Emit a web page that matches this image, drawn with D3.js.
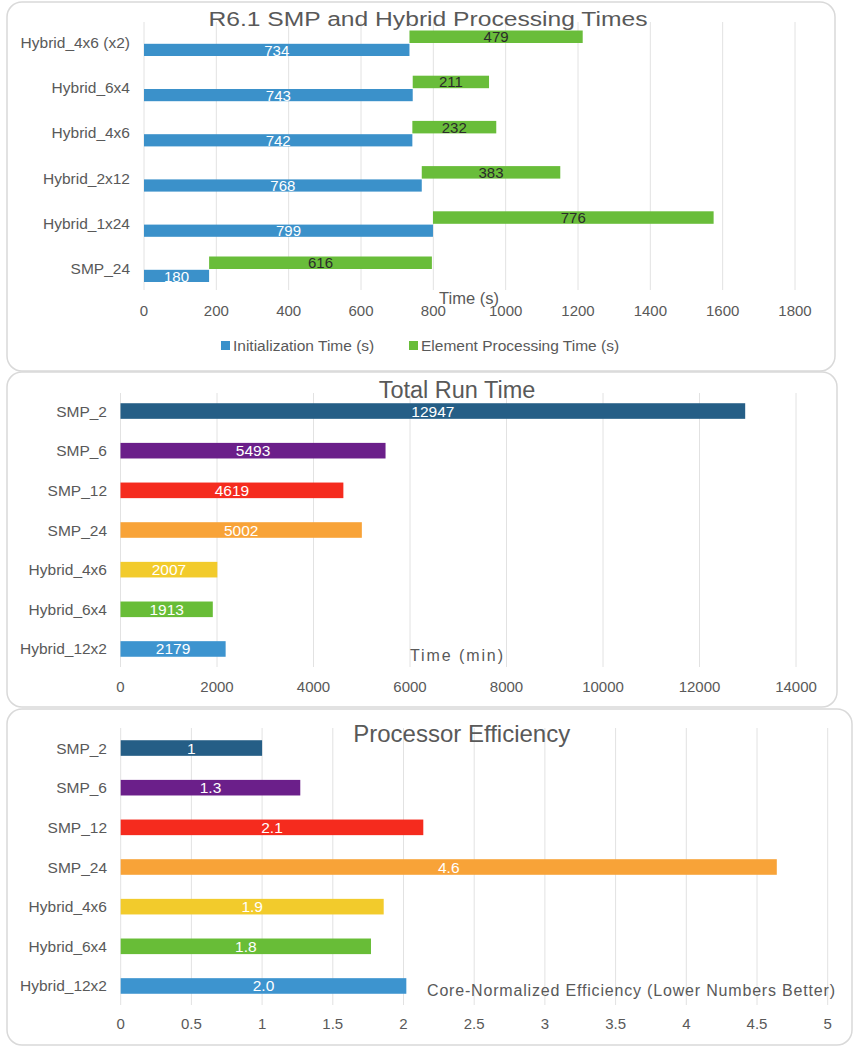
<!DOCTYPE html>
<html>
<head>
<meta charset="utf-8">
<script src="https://cdn.jsdelivr.net/npm/d3@7"></script>
<style>
  html, body { margin: 0; padding: 0; background: #ffffff; }
  svg { display: block; font-family: "Liberation Sans", Arial, sans-serif; }
</style>
</head>
<body>
<svg id="chart" width="861" height="1050"></svg>
<script>
// ---------- DATA ----------
// Panel 1: R6.1 SMP and Hybrid Processing Times
const procCategories = ["Hybrid_4x6 (x2)", "Hybrid_6x4", "Hybrid_4x6", "Hybrid_2x12", "Hybrid_1x24", "SMP_24"];
const initTime = [734, 743, 742, 768, 799, 180];
const elemTime = [479, 211, 232, 383, 776, 616];
const procTicks = [0, 200, 400, 600, 800, 1000, 1200, 1400, 1600, 1800];
const procSeriesNames = ["Initialization Time (s)", "Element Processing Time (s)"];

// Panel 2: Total Run Time
const runCategories = ["SMP_2", "SMP_6", "SMP_12", "SMP_24", "Hybrid_4x6", "Hybrid_6x4", "Hybrid_12x2"];
const runTime = [12947, 5493, 4619, 5002, 2007, 1913, 2179];
const runTicks = [0, 2000, 4000, 6000, 8000, 10000, 12000, 14000];

// Panel 3: Processor Efficiency
const effCategories = ["SMP_2", "SMP_6", "SMP_12", "SMP_24", "Hybrid_4x6", "Hybrid_6x4", "Hybrid_12x2"];
const effValue = [1.0, 1.27, 2.14, 4.64, 1.86, 1.77, 2.02];
const effLabels = ["1", "1.3", "2.1", "4.6", "1.9", "1.8", "2.0"];
const effTicks = [0, 0.5, 1, 1.5, 2, 2.5, 3, 3.5, 4, 4.5, 5];

// ---------- STYLE ----------
const barColors = ["#255e86", "#6b1f8a", "#f52b1e", "#f8a338", "#f2cb2c", "#68bd37", "#3d94cf"];
const initColor = "#3b91ca";
const elemColor = "#69bd3a";
const gridColor = "#e2e2e2";
const textColor = "#595959";
const frameColor = "#d9d9d9";

const svg = d3.select("#chart");

function frame(x0, y0, x1, y1) {
  svg.append("rect").attr("x", x0).attr("y", y0).attr("width", x1 - x0).attr("height", y1 - y0)
    .attr("rx", 15).attr("ry", 15).attr("fill", "#fff").attr("stroke", frameColor).attr("stroke-width", 1.5);
}

function grid(g, x, ticks, yTop, yBot, labelY, fmt) {
  g.selectAll("line.grid").data(ticks).join("line").attr("class", "grid")
    .attr("x1", d => x(d)).attr("x2", d => x(d)).attr("y1", yTop).attr("y2", yBot)
    .attr("stroke", gridColor).attr("stroke-width", 1);
  g.selectAll("text.tick").data(ticks).join("text").attr("class", "tick")
    .attr("x", d => x(d)).attr("y", labelY).attr("text-anchor", "middle")
    .attr("font-size", 15).attr("fill", textColor).text(fmt);
}

// ================= PANEL 1 =================
frame(7, 2, 835, 371);
{
  const g = svg.append("g");
  const x = d3.scaleLinear().domain([0, 1800]).range([144, 795]);
  const y = d3.scaleBand().domain(procCategories).range([20.4, 291.6]);
  grid(g, x, procTicks, 22, 290, 316, d => d);

  const rows = procCategories.map((c, i) => ({ c, init: initTime[i], elem: elemTime[i] }));
  const cy = d => y(d.c) + y.bandwidth() / 2;

  // green (element processing) bars start where init ends
  g.selectAll("rect.elem").data(rows).join("rect").attr("class", "elem")
    .attr("x", d => x(d.init)).attr("width", d => x(d.init + d.elem) - x(d.init))
    .attr("y", d => cy(d) - 12.5).attr("height", 12.5).attr("fill", elemColor);
  g.selectAll("rect.init").data(rows).join("rect").attr("class", "init")
    .attr("x", x(0)).attr("width", d => x(d.init) - x(0))
    .attr("y", d => cy(d) + 0.8).attr("height", 12.2).attr("fill", initColor);

  g.selectAll("text.elemL").data(rows).join("text").attr("class", "elemL")
    .attr("x", d => (x(d.init) + x(d.init + d.elem)) / 2).attr("y", d => cy(d) - 0.8)
    .attr("text-anchor", "middle").attr("font-size", 15).attr("fill", "#2b2b2b").text(d => d.elem);
  g.selectAll("text.initL").data(rows).join("text").attr("class", "initL")
    .attr("x", d => (x(0) + x(d.init)) / 2).attr("y", d => cy(d) + 12.5)
    .attr("text-anchor", "middle").attr("font-size", 15).attr("fill", "#ffffff").text(d => d.init);

  g.selectAll("text.cat").data(procCategories).join("text").attr("class", "cat")
    .attr("x", 130).attr("y", d => y(d) + y.bandwidth() / 2 + 5).attr("text-anchor", "end")
    .attr("font-size", 15.5).attr("fill", textColor).text(d => d);

  svg.append("text").attr("x", 428).attr("y", 25.5).attr("text-anchor", "middle")
    .attr("font-size", 19.5).attr("textLength", 439).attr("lengthAdjust", "spacingAndGlyphs")
    .attr("fill", textColor).text("R6.1 SMP and Hybrid Processing Times");

  svg.append("text").attr("x", 439).attr("y", 304).attr("font-size", 16.5)
    .attr("fill", textColor).text("Time (s)");

  // legend
  const legend = [
    { name: procSeriesNames[0], color: initColor, x: 221 },
    { name: procSeriesNames[1], color: elemColor, x: 409 }
  ];
  const lg = svg.append("g");
  lg.selectAll("rect").data(legend).join("rect")
    .attr("x", d => d.x).attr("y", 341).attr("width", 9).attr("height", 9).attr("fill", d => d.color);
  lg.selectAll("text").data(legend).join("text")
    .attr("x", d => d.x + 12).attr("y", 350.5).attr("font-size", 15.5).attr("fill", textColor).text(d => d.name);
}

// ================= PANEL 2 =================
frame(7, 372, 837, 707);
{
  const g = svg.append("g");
  const x = d3.scaleLinear().domain([0, 14000]).range([120.5, 796]);
  const y = d3.scaleBand().domain(runCategories).range([391.2, 668.8]);
  grid(g, x, runTicks, 393, 667, 692, d => d);
  const rows = runCategories.map((c, i) => ({ c, v: runTime[i], color: barColors[i] }));
  const cy = d => y(d.c) + y.bandwidth() / 2;
  g.selectAll("rect.bar").data(rows).join("rect").attr("class", "bar")
    .attr("x", x(0)).attr("width", d => x(d.v) - x(0))
    .attr("y", d => cy(d) - 7.8).attr("height", 15.6).attr("fill", d => d.color);
  g.selectAll("text.val").data(rows).join("text").attr("class", "val")
    .attr("x", d => (x(0) + x(d.v)) / 2).attr("y", d => cy(d) + 5.5)
    .attr("text-anchor", "middle").attr("font-size", 15.5).attr("fill", "#ffffff").text(d => d.v);
  g.selectAll("text.cat").data(runCategories).join("text").attr("class", "cat")
    .attr("x", 107).attr("y", d => y(d) + y.bandwidth() / 2 + 5.5).attr("text-anchor", "end")
    .attr("font-size", 15.5).attr("fill", textColor).text(d => d);
  svg.append("text").attr("x", 457).attr("y", 398).attr("text-anchor", "middle")
    .attr("font-size", 23.5).attr("fill", textColor).text("Total Run Time");
  svg.append("text").attr("x", 410).attr("y", 661).attr("font-size", 16)
    .attr("textLength", 93).attr("lengthAdjust", "spacing")
    .attr("fill", textColor).text("Time (min)");
}

// ================= PANEL 3 =================
frame(7, 709, 852, 1045);
{
  const g = svg.append("g");
  const x = d3.scaleLinear().domain([0, 5]).range([120.7, 827.7]);
  const y = d3.scaleBand().domain(effCategories).range([728.2, 1005.8]);
  grid(g, x, effTicks, 728, 1005, 1029, d => d);
  const rows = effCategories.map((c, i) => ({ c, v: effValue[i], lab: effLabels[i], color: barColors[i] }));
  const cy = d => y(d.c) + y.bandwidth() / 2;
  g.selectAll("rect.bar").data(rows).join("rect").attr("class", "bar")
    .attr("x", x(0)).attr("width", d => x(d.v) - x(0))
    .attr("y", d => cy(d) - 7.8).attr("height", 15.6).attr("fill", d => d.color);
  g.selectAll("text.val").data(rows).join("text").attr("class", "val")
    .attr("x", d => (x(0) + x(d.v)) / 2).attr("y", d => cy(d) + 5.5)
    .attr("text-anchor", "middle").attr("font-size", 15.5).attr("fill", "#ffffff").text(d => d.lab);
  g.selectAll("text.cat").data(effCategories).join("text").attr("class", "cat")
    .attr("x", 107).attr("y", d => y(d) + y.bandwidth() / 2 + 5.5).attr("text-anchor", "end")
    .attr("font-size", 15.5).attr("fill", textColor).text(d => d);
  svg.append("text").attr("x", 461.7).attr("y", 742).attr("text-anchor", "middle")
    .attr("font-size", 24).attr("fill", textColor).text("Processor Efficiency");
  svg.append("text").attr("x", 427).attr("y", 996).attr("font-size", 16)
    .attr("textLength", 408).attr("lengthAdjust", "spacing")
    .attr("fill", textColor).text("Core-Normalized Efficiency (Lower Numbers Better)");
}
</script>
</body>
</html>
